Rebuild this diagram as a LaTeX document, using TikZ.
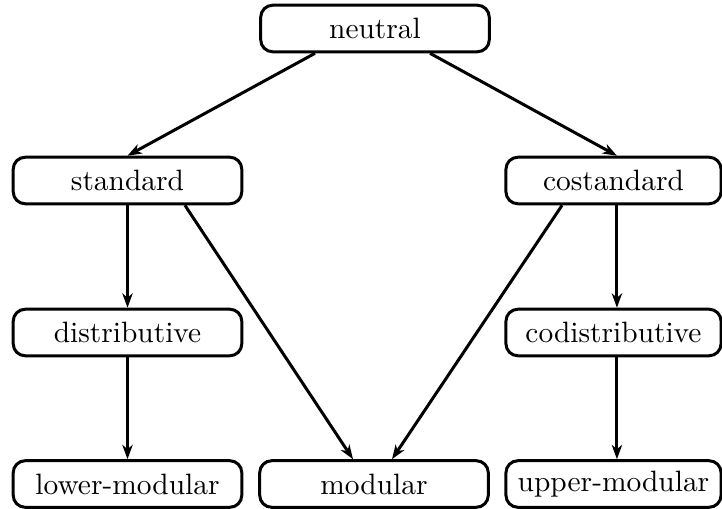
\documentclass[tikz,border=0pt]{standalone}
\usetikzlibrary{arrows.meta}
\begin{document}
\begin{tikzpicture}[x=0.35pt,y=-0.35pt,
  box/.style={draw,line width=1.05pt,rounded corners=4.2pt,minimum height=16.3pt,inner sep=0pt,font=\fontsize{10.3pt}{12pt}\selectfont},
  lbox/.style={box,minimum width=80pt},
  rbox/.style={box,minimum width=75.3pt},
  arr/.style={line width=1.05pt,-{Stealth[length=5pt,width=3.6pt,inset=1.5pt]}}]
\useasboundingbox (0,0) rectangle (722,508);
\node[lbox] (neutral) at (375,28.5) {neutral};
\node[lbox] (standard) at (127.5,180.5) {standard};
\node[rbox] (costandard) at (613.5,180.5) {costandard};
\node[lbox] (distributive) at (127.5,332.5) {distributive};
\node[rbox] (codistributive) at (613.5,332.5) {codistributive};
\node[lbox] (lower) at (127.5,484) {lower-modular};
\node[lbox] (modular) at (374,484) {modular};
\node[rbox] (upper) at (613.5,484) {upper-modular};
\draw[arr] ([xshift=-21pt]neutral.south) -- (standard.north);
\draw[arr] ([xshift=19.25pt]neutral.south) -- ([xshift=1.2pt]costandard.north);
\draw[arr] (standard.south) -- (distributive.north);
\draw[arr] (distributive.south) -- (lower.north);
\draw[arr] ([xshift=1.2pt]costandard.south) -- ([xshift=1.2pt]codistributive.north);
\draw[arr] ([xshift=1.2pt]codistributive.south) -- ([xshift=1.2pt]upper.north);
\draw[arr] ([xshift=20.1pt]standard.south) -- ([xshift=-7.35pt]modular.north);
\draw[arr] ([xshift=-18pt]costandard.south) -- ([xshift=6.3pt]modular.north);
\end{tikzpicture}
\end{document}
